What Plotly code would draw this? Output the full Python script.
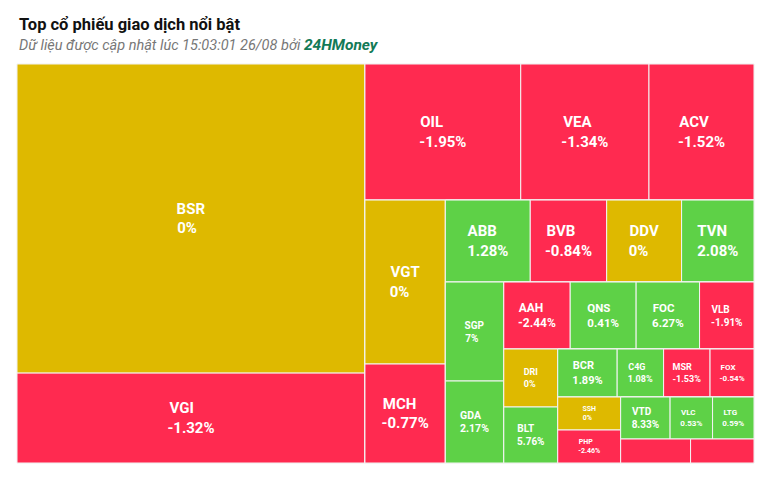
import plotly.graph_objects as go

# ---- data ----
tickers = ["BSR", "VGI", "OIL", "VEA", "ACV", "VGT", "MCH", "ABB", "BVB", "DDV", "TVN",
           "SGP", "GDA", "AAH", "QNS", "FOC", "VLB", "DRI", "BLT", "BCR", "C4G", "MSR",
           "FOX", "SSH", "PHP", "VTD", "VLC", "LTG", "", ""]
changes = [0, -1.32, -1.95, -1.34, -1.52, 0, -0.77, 1.28, -0.84, 0, 2.08,
           7, 2.17, -2.44, 0.41, 6.27, -1.91, 0, 5.76, 1.89, 1.08, -1.53,
           -0.54, 0, -2.46, 8.33, 0.53, 0.59, -1.0, -1.0]
values = [107706, 31320, 21226, 17472, 14310, 13202, 7970, 6970, 6273, 6150, 5945,
          5792, 4797, 4456, 4422, 4255, 3652, 3132, 3024, 2856, 2232, 2232,
          2112, 2079, 2079, 2079, 1785, 1743, 1680, 1524]
groups = ["G1", "G1", "G2", "G2", "G2", "G3", "G3", "G4", "G4", "G4", "G4",
          "G5", "G5", "G6", "G6", "G6", "G6", "G7", "G7", "G8", "G8", "G8",
          "G8", "G9", "G9", "G10", "G10", "G10", "G11", "G11"]

# hierarchy of blocks (group id -> parent)
group_ids = ["G1", "R1", "G2", "R2", "G3", "R3", "G4", "R4", "G5", "R5", "G6", "R6",
             "G7", "R7", "G8", "R8", "G9", "R9", "G10", "G11"]
group_parents = ["", "", "R1", "R1", "R2", "R2", "R3", "R3", "R4", "R4", "R5", "R5",
                 "R6", "R6", "R7", "R7", "R8", "R8", "R9", "R9"]

# ---- styles ----
font_sizes = [15, 15, 15, 15, 15, 15, 15, 15, 15, 15, 15,
              10, 10.5, 12, 11.5, 11.5, 10, 9, 10, 11, 9, 9,
              8, 7, 7, 10, 8, 8, 8, 8]
GREEN, RED, YELLOW = "#5ED147", "#FF2A50", "#DEB900"

# approximate Roboto Bold advance widths (em) for left-aligning the two lines
CW = {"A": .655, "B": .628, "C": .64, "D": .639, "E": .551, "F": .538, "G": .668,
      "H": .696, "I": .281, "L": .531, "M": .865, "N": .693, "O": .675, "P": .63,
      "Q": .675, "R": .614, "S": .597, "T": .605, "V": .635, "X": .621,
      ".": .265, "-": .28, "%": .716}
NBSP_W = .248


def tw(s):
    return sum(CW.get(ch, .5615) for ch in s)


def block(name, chg):
    if not name:
        return ""
    a, b = name, f"{chg:g}%"
    wa, wb = tw(a), tw(b)
    if wa < wb:
        a += "\u00a0" * round((wb - wa) / NBSP_W)
    else:
        b += "\u00a0" * round((wa - wb) / NBSP_W)
    return f"{a}<br>{b}"


def color_of(c):
    return GREEN if c > 0 else (RED if c < 0 else YELLOW)


# ---- build treemap arrays: groups in hierarchical order, leaves under them ----
ids, labels, parents, vals, colors, texts, sizes = [], [], [], [], [], [], []
for gid, gp in zip(group_ids, group_parents):
    ids.append(gid); labels.append(""); parents.append(gp); vals.append(0)
    colors.append("#FFFFFF"); texts.append(""); sizes.append(8)
    for i, g in enumerate(groups):
        if g == gid:
            ids.append(f"t{i}"); labels.append(tickers[i]); parents.append(gid)
            vals.append(values[i]); colors.append(color_of(changes[i]))
            texts.append(block(tickers[i], changes[i]))
            sizes.append(font_sizes[i])

fig = go.Figure(go.Treemap(
    ids=ids, labels=labels, parents=parents, values=vals,
    branchvalues="remainder", sort=False,
    text=texts, texttemplate="%{text}", textposition="middle center",
    textfont=dict(family="Roboto", size=sizes, color="white", weight="bold"),
    marker=dict(colors=colors, line=dict(color="#F4F4F4", width=1),
                pad=dict(t=0, l=0, r=0, b=0)),
    tiling=dict(packing="slice-dice", pad=0),
    pathbar=dict(visible=False),
    root=dict(color="white"),
    hoverinfo="skip",
))

# page has an 8px body margin: figure is drawn at (8, 8)
W, H = 768, 469
ml, mr, mt, mb = 9, 21.5, 55.5, 14
ph = H - mt - mb


def ypap(py):
    return 1 + (mt - py) / ph


fig.update_layout(
    width=W, height=H,
    margin=dict(l=ml, r=mr, t=mt, b=mb),
    paper_bgcolor="white",
    font=dict(family="Roboto"),
    annotations=[
        dict(text="<b>Top cổ phiếu giao dịch nổi bật</b>", x=0, y=ypap(16),
             xref="paper", yref="paper", xanchor="left", yanchor="middle",
             showarrow=False, font=dict(size=16.5, color="#111111", family="Roboto")),
        dict(text="<i>Dữ liệu được cập nhật lúc 15:03:01 26/08 bởi </i>"
                  "<i><b><span style='color:#137A57;font-size:15.5px'>24HMoney</span></b></i>",
             x=0, y=ypap(36), xref="paper", yref="paper", xanchor="left",
             yanchor="middle", showarrow=False,
             font=dict(size=14.5, color="#777777", family="Roboto")),
    ],
)

fig.write_html("out.html")
